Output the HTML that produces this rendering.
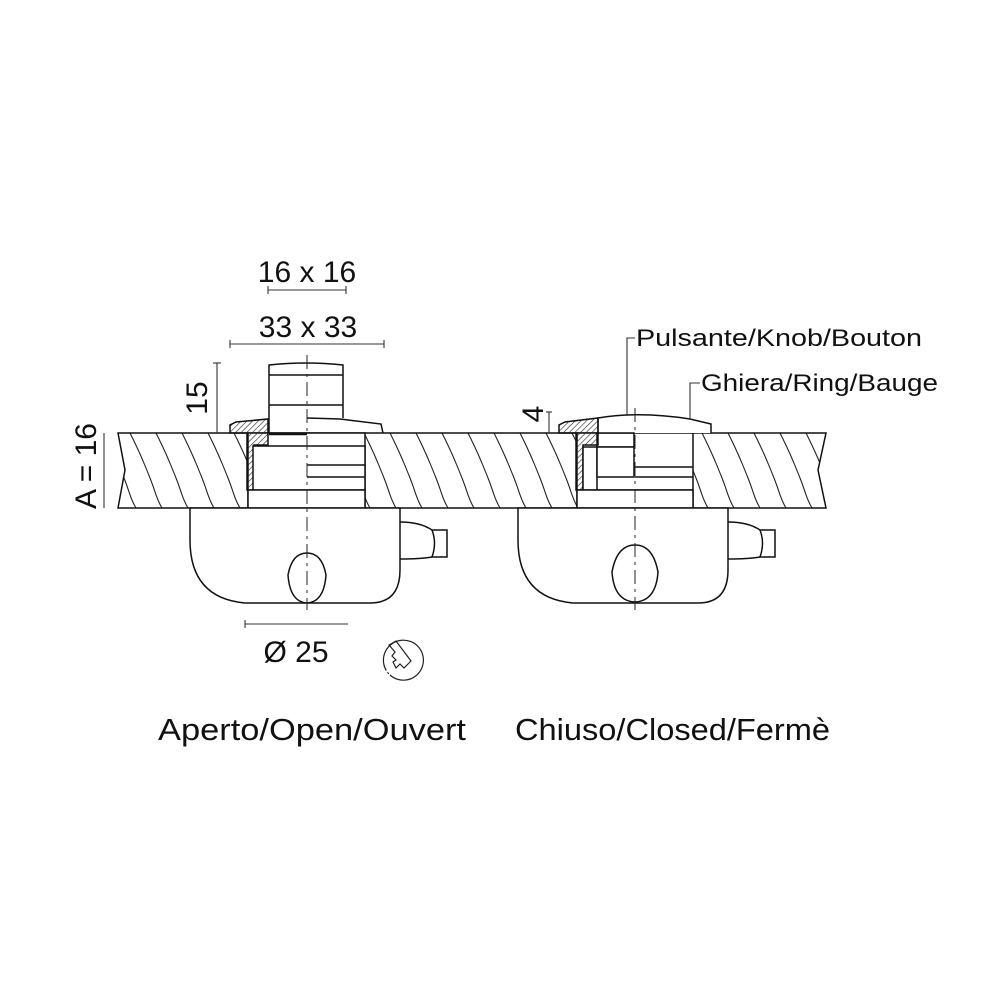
<!DOCTYPE html>
<html><head><meta charset="utf-8"><style>
html,body{margin:0;padding:0;background:#fff}
svg{display:block}
text{font-family:"Liberation Sans","DejaVu Sans",sans-serif;fill:#111}
</style></head><body>
<svg width="1000" height="1000" viewBox="0 0 1000 1000" xmlns="http://www.w3.org/2000/svg">
<defs>
<pattern id="wood" width="26" height="75" patternUnits="userSpaceOnUse" x="118" y="433">
<path d="M-14 0 C-4 20 0 30 6 45 S12 65 18 75 M12 0 C22 20 26 30 32 45 S38 65 44 75 M-40 0 C-30 20 -26 30 -20 45 S-14 65 -8 75" stroke="#222" stroke-width="1.1" fill="none"/>
</pattern>
<pattern id="hatch" width="4" height="4" patternUnits="userSpaceOnUse" patternTransform="rotate(45)">
<line x1="0" y1="0" x2="0" y2="4" stroke="#222" stroke-width="1.2"/>
</pattern>
<clipPath id="board"><path d="M118 433 L826 433 L818 470 L826 508 L118 508 L125 470 Z"/></clipPath>
</defs>
<g fill="none" stroke="#111" stroke-width="1.5">
<g clip-path="url(#board)">
<rect x="110" y="433" width="720" height="75" fill="url(#wood)" stroke="none"/>
</g>
<path d="M118 433 L826 433 L818 470 L826 508 L118 508 L125 470 Z"/>
<rect x="248" y="433" width="117" height="75" fill="#fff"/>
<rect x="577" y="433" width="116" height="75" fill="#fff"/>

<!-- LEFT UNIT -->
<path d="M269 418 L269 365 Q306 361 343 365 L343 418" fill="#fff"/>
<line x1="269" y1="375" x2="343" y2="375"/>
<line x1="269" y1="405" x2="343" y2="405"/>
<path d="M269 418 L269 433 M307 418 L340 419 L381 424 L383 433" />
<path d="M230 433 L230 425 L236 422 L268 419 L268 445 L254 445 L254 490 L247 490 L247 433 Z" fill="url(#hatch)"/>
<rect x="253" y="446" width="112" height="44" fill="#fff"/>
<line x1="307" y1="465" x2="365" y2="465"/><line x1="307" y1="477" x2="365" y2="477"/>
<rect x="248" y="490" width="117" height="18" fill="#fff"/>
<line x1="269" y1="434" x2="307" y2="434" stroke-width="2.5"/>
<path d="M190 508 L400 508 L400 570 Q400 603 370 603 L245 603 Q190 598 190 540 Z" fill="#fff"/>
<path d="M400 522 Q420 522 432 530 L447 530 L447 557 L432 557 Q420 559 400 559"/>
<path d="M432 530 Q437 543 432 557"/>
<path d="M307 553 Q292 553 288 575 Q290 602 307 603 Q324 602 326 575 Q322 553 307 553 Z"/>

<!-- RIGHT UNIT -->
<path d="M598 433 L598 418 Q640 411 690 419 L711 424 L711 433" fill="#fff"/>
<path d="M559 433 L559 425 L565 422 L598 418 L598 445 L583 445 L583 490 L576 490 L576 433 Z" fill="url(#hatch)"/>
<rect x="597" y="433" width="37" height="14"/>
<rect x="583" y="447" width="14" height="43" fill="#fff"/>
<rect x="597" y="447" width="37" height="30" fill="#fff"/>
<path d="M635 467 L693 467 M635 477 L693 477 M597 490 L693 490"/>
<rect x="577" y="490" width="116" height="18" fill="#fff"/>
<path d="M518 508 L728 508 L728 570 Q728 603 698 603 L573 603 Q518 598 518 540 Z" fill="#fff"/>
<path d="M728 522 Q748 522 760 530 L775 530 L775 557 L760 557 Q748 559 728 559"/>
<path d="M760 530 Q765 543 760 557"/>
<path d="M635 545 Q617 545 612 572 Q614 601 635 602 Q656 601 658 572 Q653 545 635 545 Z"/>
</g>
<g stroke="#222" stroke-width="1" stroke-dasharray="14 5 3 5">
<line x1="307" y1="355" x2="307" y2="610"/>
<line x1="635" y1="408" x2="635" y2="610"/>
</g>
<g stroke="#333" stroke-width="1.1">
<line x1="268" y1="290" x2="346" y2="290"/><line x1="268" y1="286" x2="268" y2="294"/><line x1="346" y1="286" x2="346" y2="294"/>
<line x1="230" y1="344" x2="384" y2="344"/><line x1="230" y1="340" x2="230" y2="348"/><line x1="384" y1="340" x2="384" y2="348"/>
<line x1="217" y1="363" x2="217" y2="433"/><line x1="213" y1="363" x2="221" y2="363"/>
<line x1="104" y1="433" x2="104" y2="508"/>
<line x1="549" y1="412" x2="549" y2="433"/><line x1="546" y1="412" x2="552" y2="412"/>
<line x1="245" y1="624" x2="348" y2="624"/><line x1="245" y1="620" x2="245" y2="628"/>
<path d="M635 338 L627 338 L627 416" fill="none"/>
<path d="M700 383 L690 383 L690 420" fill="none"/>
</g>
<g fill="none" stroke="#222" stroke-width="1.2">
<path d="M386 670 A20 20 0 1 1 390 675" />
<path d="M384 665 A20 20 0 0 0 390 675" stroke-dasharray="2 2"/>
<path d="M389 645 L396 641 L411 661 L404 668 L400 664 L396 668 L393 662 L396 660 L392 656 L395 652 Z"/>
</g>
<text x="307" y="282" font-size="30" text-anchor="middle">16 x 16</text>
<text x="308" y="337" font-size="30" text-anchor="middle">33 x 33</text>
<text transform="translate(207,398) rotate(-90)" font-size="30" text-anchor="middle">15</text>
<text transform="translate(96,466) rotate(-90)" font-size="30" text-anchor="middle">A = 16</text>
<text transform="translate(543,414) rotate(-90)" font-size="30" text-anchor="middle">4</text>
<text x="296" y="662" font-size="30" text-anchor="middle">Ø 25</text>
<text x="636" y="346" font-size="24" textLength="286" lengthAdjust="spacingAndGlyphs">Pulsante/Knob/Bouton</text>
<text x="701" y="391" font-size="24" textLength="237" lengthAdjust="spacingAndGlyphs">Ghiera/Ring/Bauge</text>
<text x="158" y="740" font-size="31" textLength="308" lengthAdjust="spacingAndGlyphs">Aperto/Open/Ouvert</text>
<text x="515" y="740" font-size="31" textLength="315" lengthAdjust="spacingAndGlyphs">Chiuso/Closed/Fermè</text>
</svg>
</body></html>
